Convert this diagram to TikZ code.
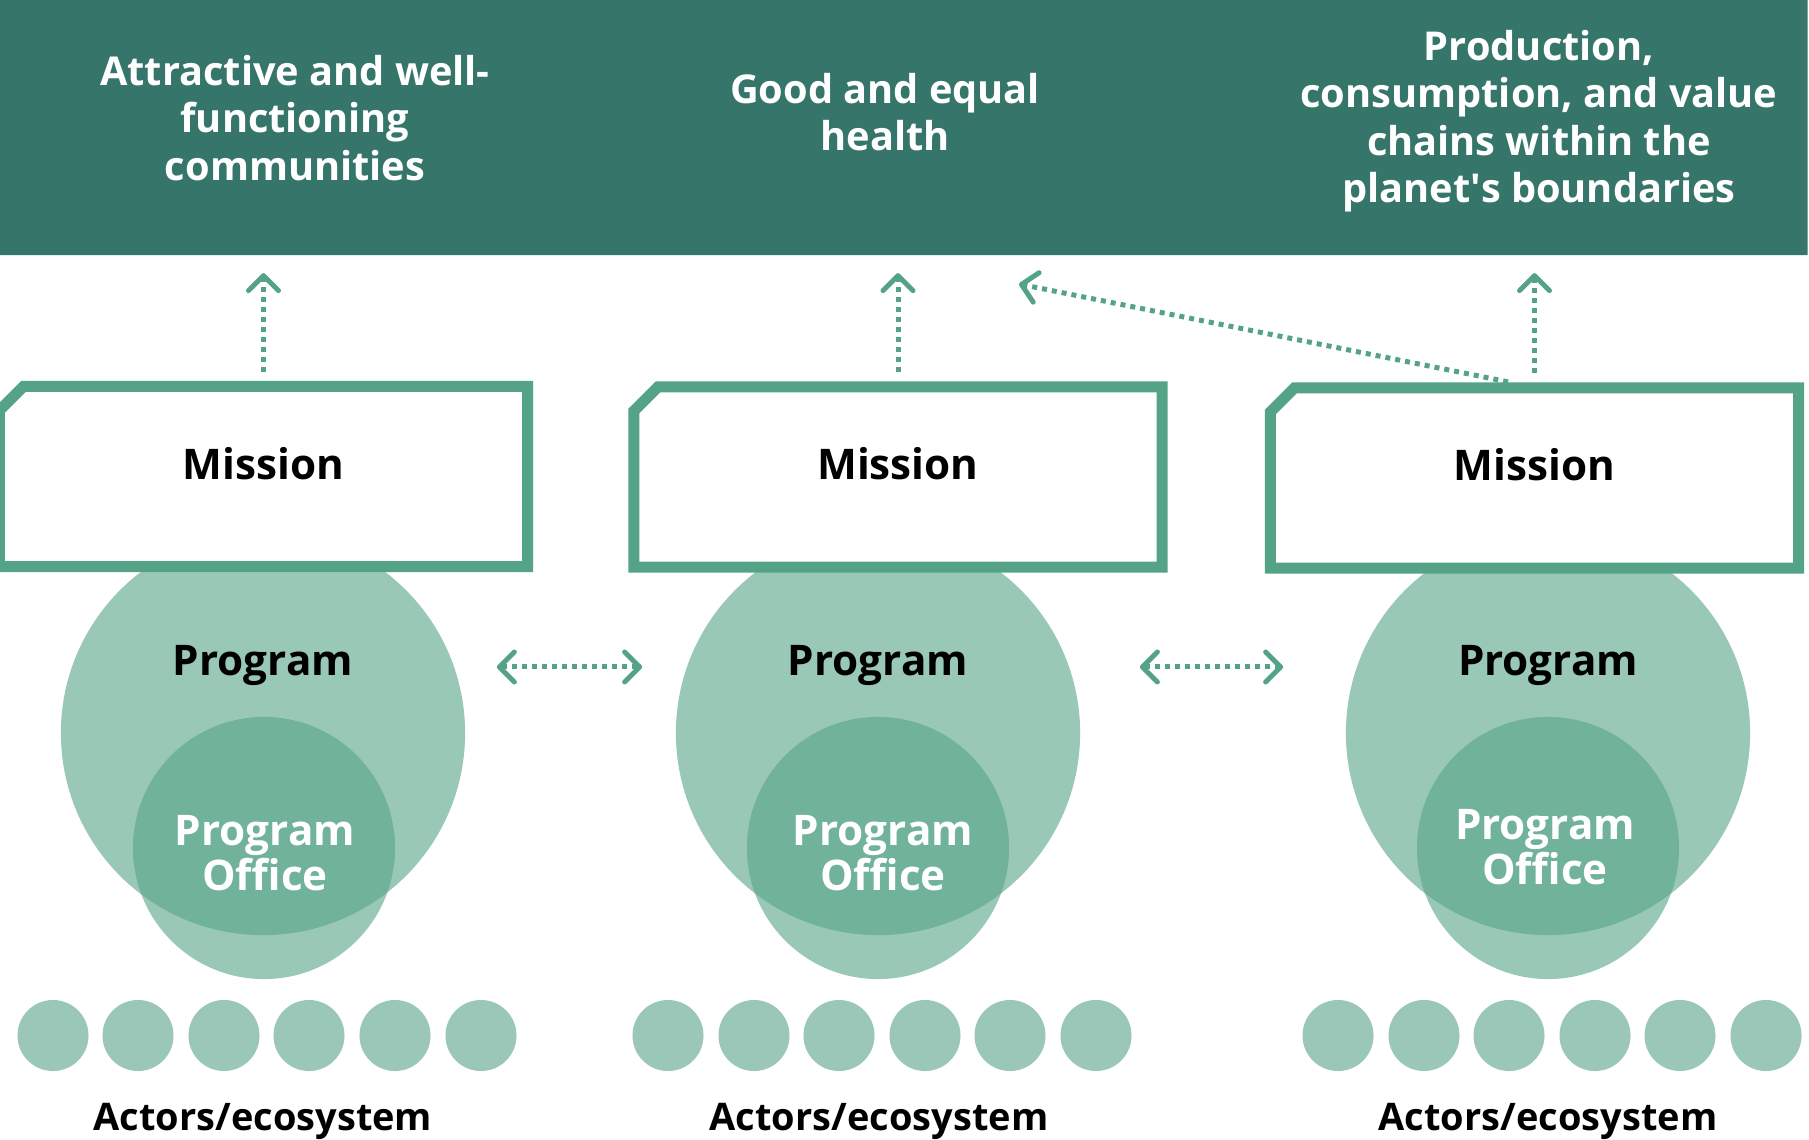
\documentclass[tikz,border=0pt]{standalone}
\usepackage{fontspec}
\setmainfont{Open Sans}
\usetikzlibrary{arrows.meta,shapes.misc}

\definecolor{mgreen}{HTML}{55A387}
\definecolor{bannergreen}{HTML}{36766A}
\definecolor{actorgreen}{HTML}{9AC7B7}

\tikzset{
  txt/.style={font=\bfseries\fontsize{12}{13.4}\selectfont,align=center},
  goaltxt/.style={font=\bfseries\fontsize{11.3}{13.5}\selectfont,align=center,text=white},
  banner/.style={chamfered rectangle,chamfered rectangle corners=north west,
    chamfered rectangle xsep=0.14cm,chamfered rectangle ysep=0.14cm,
    fill=bannergreen,inner sep=0pt,outer sep=0pt,
    minimum width=18.07cm,minimum height=2.55cm},
  mission/.style={chamfered rectangle,chamfered rectangle corners=north west,
    chamfered rectangle xsep=0.12cm,chamfered rectangle ysep=0.12cm,
    draw=mgreen,line width=0.11cm,fill=white,txt,text depth=0.27cm,
    minimum width=5.28cm,minimum height=1.80cm},
  program/.style={circle,fill=mgreen,fill opacity=0.6,minimum size=4.04cm},
  office/.style={circle,fill=mgreen,fill opacity=0.6,minimum size=2.62cm},
  actor/.style={circle,fill=actorgreen,minimum size=0.71cm,inner sep=0pt},
  barb/.style={Straight Barb[length=0.15cm,width=0.3cm,round]},
  flow/.style={draw=mgreen,line width=0.05cm,dash pattern=on 0.05cm off 0.05cm,-{Straight Barb[length=0.15cm,width=0.3cm,round]}},
  flowboth/.style={flow,{Straight Barb[length=0.15cm,width=0.3cm,round]}-{Straight Barb[length=0.15cm,width=0.3cm,round]}}
}

\begin{document}
\begin{tikzpicture}[x=0.01cm,y=-0.01cm]
  \useasboundingbox (0,0) rectangle (1809,1139);
  \node[banner] (banner) at (903.5,127.5) {};
  \draw[goaltxt]
    (295,118) node (g1){Attractive and well-\\functioning\\communities}
    (885,112) node (g2){Good and equal\\health}
    (1539,121) node (g3){Production,\\consumption, and value\\chains within the\\planet\textquotesingle s boundaries};
  % programs and their offices
  \path
    (263,733) node[program] (p1){}
    (878,733) node[program] (p2){}
    (1548,733) node[program] (p3){}
    (264,848) node[office] (o1){}
    (878,848) node[office] (o2){}
    (1548,848) node[office] (o3){};
  \draw[txt]
    (263,665) node (pl1){Program}
    (878,665) node (pl2){Program}
    (1548,665) node (pl3){Program};
  \draw[txt,font=\bfseries\fontsize{12}{12.6}\selectfont,text=white]
    (265,853) node (ot1){Program\\Office}
    (883,853) node (ot2){Program\\Office}
    (1545,847) node (ot3){Program\\Office};
  % missions
  \path
    (263.5,476.5) node[mission] (m1){Mission}
    (898,477) node[mission] (m2){Mission}
    (1534.5,478) node[mission] (m3){Mission};
  % actors
  \path
    (53,1035.5) node[actor] (a11){} (138,1035.5) node[actor] (a12){}
    (224,1035.5) node[actor] (a13){} (309,1035.5) node[actor] (a14){}
    (395,1035.5) node[actor] (a15){} (481,1035.5) node[actor] (a16){}
    (668,1035.5) node[actor] (a21){} (754,1035.5) node[actor] (a22){}
    (839,1035.5) node[actor] (a23){} (925,1035.5) node[actor] (a24){}
    (1010,1035.5) node[actor] (a25){} (1096,1035.5) node[actor] (a26){}
    (1338,1035.5) node[actor] (a31){} (1424,1035.5) node[actor] (a32){}
    (1509,1035.5) node[actor] (a33){} (1595,1035.5) node[actor] (a34){}
    (1680,1035.5) node[actor] (a35){} (1766,1035.5) node[actor] (a36){};
  \draw[txt,font=\bfseries\fontsize{10.8}{12}\selectfont]
    (263,1121) node (e1){Actors/ecosystem}
    (879,1121) node (e2){Actors/ecosystem}
    (1548,1121) node (e3){Actors/ecosystem};
  \coordinate (back) at (1019,284);
  \begin{scope}[shorten <=0.09cm,shorten >=0.18cm]
    \draw[flow] (m1.north) -- (m1.north |- banner.south);
    \draw[flow] (m2.north) -- (m2.north |- banner.south);
    \draw[flow] (m3.north) -- (m3.north |- banner.south);
  \end{scope}
  \draw[flow,shorten <=0.03cm] ([xshift=-0.235cm]m3.north) -- (back);
  \draw[flowboth,shorten <=0.31cm,shorten >=0.33cm] ([yshift=0.66cm]p1.east) -- ([yshift=0.66cm]p2.west);
  \draw[flowboth,shorten <=0.59cm,shorten >=0.62cm] ([yshift=0.66cm]p2.east) -- ([yshift=0.66cm]p3.west);
\end{tikzpicture}
\end{document}
